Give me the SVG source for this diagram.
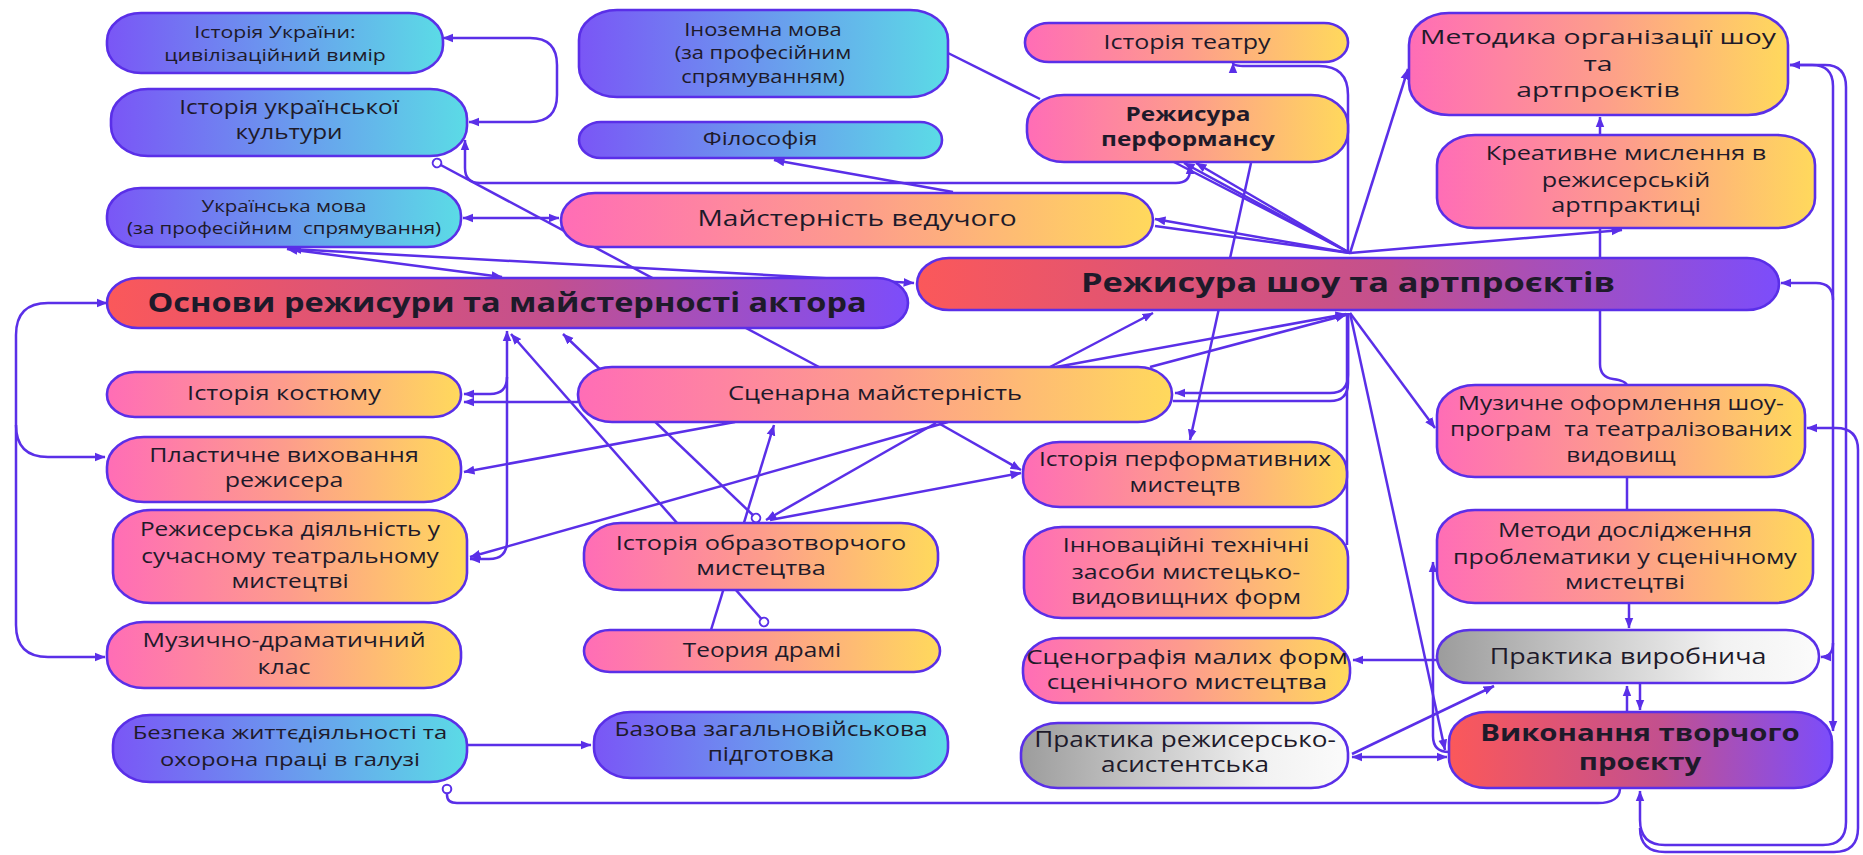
<svg xmlns="http://www.w3.org/2000/svg" width="1863" height="855" viewBox="0 0 1863 855">
<style>
.n{stroke:#5a2fe8;stroke-width:2.6}
.c{fill:none;stroke:#5a2fe8;stroke-width:2.5}
.t{font-family:'Open Sans','Noto Sans','DejaVu Sans',sans-serif;fill:#1e1a2a;text-anchor:middle}
.b{font-weight:700}
</style>
<defs>
<linearGradient id="pc" x1="0" y1="0" x2="1" y2="0"><stop offset="0" stop-color="#7a56f6"/><stop offset="1" stop-color="#5bdbe6"/></linearGradient>
<linearGradient id="py" x1="0" y1="0" x2="1" y2="0"><stop offset="0" stop-color="#ff6db6"/><stop offset="0.5" stop-color="#fd9c8c"/><stop offset="1" stop-color="#ffd95c"/></linearGradient>
<linearGradient id="rp" x1="0" y1="0" x2="1" y2="0"><stop offset="0" stop-color="#fb585a"/><stop offset="0.55" stop-color="#c3508e"/><stop offset="1" stop-color="#7c4dfb"/></linearGradient>
<linearGradient id="gr" x1="0" y1="0" x2="1" y2="0"><stop offset="0" stop-color="#9c9c9c"/><stop offset="0.75" stop-color="#f2f2f2"/><stop offset="1" stop-color="#fbfbfb"/></linearGradient>
<marker id="a" viewBox="0 0 10 10" refX="9.5" refY="5" markerWidth="11" markerHeight="11" markerUnits="userSpaceOnUse" orient="auto-start-reverse"><path d="M0,1 L10,5 L0,9 z" fill="#5a2fe8"/></marker>
<marker id="o" viewBox="0 0 12 12" refX="6" refY="6" markerWidth="12" markerHeight="12" markerUnits="userSpaceOnUse" orient="auto"><circle cx="6" cy="6" r="4.3" fill="#fff" stroke="#5a2fe8" stroke-width="2"/></marker>
</defs>
<rect width="1863" height="855" fill="#fff"/>
<g id="connectors">
<path class="c" d="M443,38 H530 Q557,38 557,65 V95 Q557,122 530,122 H469" marker-start="url(#a)" marker-end="url(#a)"/>
<path class="c" d="M465,140 V168 Q465,183 480,183 H1176 Q1190,183 1190,170 V164" marker-start="url(#a)" marker-end="url(#a)"/>
<path class="c" d="M437,163 L819,367" marker-start="url(#o)"/>
<path class="c" d="M463,218 H559" marker-start="url(#a)" marker-end="url(#a)"/>
<path class="c" d="M287,249 L502,277" marker-start="url(#a)" marker-end="url(#a)"/>
<path class="c" d="M291,249 L914,283" marker-start="url(#a)" marker-end="url(#a)"/>
<path class="c" d="M948,53 L1040,99"/>
<path class="c" d="M953,192 L774,160" marker-end="url(#a)"/>
<path class="c" d="M1350,253 L1155,219" marker-end="url(#a)"/>
<path class="c" d="M1350,253 L1155,226"/>
<path class="c" d="M1350,253 L1172,161"/>
<path class="c" d="M1350,253 L1184,163" marker-end="url(#a)"/>
<path class="c" d="M1350,253 L1196,163" marker-end="url(#a)"/>
<path class="c" d="M1348,253 V95 Q1348,66 1319,66 H1246 Q1233,66 1233,63" marker-end="url(#a)"/>
<path class="c" d="M1350,253 L1408,69" marker-end="url(#a)"/>
<path class="c" d="M1350,253 L1622,230" marker-end="url(#a)"/>
<path class="c" d="M1600,135 V117" marker-end="url(#a)"/>
<path class="c" d="M1600,258 V229"/>
<path class="c" d="M107,303 H48 Q16,303 16,335 V625 Q16,657 48,657 H105" marker-start="url(#a)" marker-end="url(#a)"/>
<path class="c" d="M16,425 Q16,457 48,457 H105" marker-end="url(#a)"/>
<path class="c" d="M507,331 V541 Q507,559 489,559 H470" marker-start="url(#a)" marker-end="url(#a)"/>
<path class="c" d="M507,377 Q507,394 490,394 H464" marker-end="url(#a)"/>
<path class="c" d="M578,402 H464" marker-end="url(#a)"/>
<path class="c" d="M756,518 L563,334" marker-start="url(#o)" marker-end="url(#a)"/>
<path class="c" d="M764,622 L511,334" marker-start="url(#o)" marker-end="url(#a)"/>
<path class="c" d="M711,630 L774,425" marker-end="url(#a)"/>
<path class="c" d="M735,422 L464,472" marker-end="url(#a)"/>
<path class="c" d="M948,422 L470,557" marker-end="url(#a)"/>
<path class="c" d="M936,423 L766,520" marker-end="url(#a)"/>
<path class="c" d="M770,520 L1021,473" marker-end="url(#a)"/>
<path class="c" d="M940,424 L1021,470" marker-end="url(#a)"/>
<path class="c" d="M1050,367 L1153,313" marker-end="url(#a)"/>
<path class="c" d="M1056,367 L1346,314" marker-end="url(#a)"/>
<path class="c" d="M1150,367 L1346,315" marker-end="url(#a)"/>
<path class="c" d="M1348,313 V375 Q1348,393 1330,393 H1175" marker-end="url(#a)"/>
<path class="c" d="M1348,313 V383 Q1348,401 1330,401 H1173"/>
<path class="c" d="M1347,313 V545"/>
<path class="c" d="M1251,163 L1190,440" marker-end="url(#a)"/>
<path class="c" d="M1350,313 L1435,428" marker-end="url(#a)"/>
<path class="c" d="M1350,313 L1445,750" marker-end="url(#a)"/>
<path class="c" d="M1600,310 V364 Q1600,377 1613,379 Q1627,381 1627,386"/>
<path class="c" d="M1627,477 V510"/>
<path class="c" d="M1629,603 V628" marker-end="url(#a)"/>
<path class="c" d="M1627,712 V686" marker-end="url(#a)"/>
<path class="c" d="M1640,683 V710" marker-end="url(#a)"/>
<path class="c" d="M1437,660 H1353" marker-end="url(#a)"/>
<path class="c" d="M1352,754 L1494,686" marker-end="url(#a)"/>
<path class="c" d="M1352,757 H1447" marker-start="url(#a)" marker-end="url(#a)"/>
<path class="c" d="M1449,752 Q1433,752 1433,736 V562" marker-end="url(#a)"/>
<path class="c" d="M1790,65 H1812 Q1833,65 1833,86 V731" marker-start="url(#a)" marker-end="url(#a)"/>
<path class="c" d="M1833,300 Q1833,283 1816,283 H1781" marker-end="url(#a)"/>
<path class="c" d="M1833,643 Q1833,657 1821,657" marker-end="url(#a)"/>
<path class="c" d="M1790,65 H1825 Q1846,65 1846,87 V822 Q1846,845 1823,845 H1665 Q1640,845 1640,820 V791" marker-end="url(#a)"/>
<path class="c" d="M1807,428 H1836 Q1858,428 1858,450 V828 Q1858,852 1834,852 H1665 Q1640,852 1640,828" marker-start="url(#a)"/>
<path class="c" d="M453,745 H591" marker-start="url(#o)" marker-end="url(#a)"/>
<path class="c" d="M447,789 V795 Q447,803 457,803 H1598 Q1619,803 1620,789" marker-start="url(#o)"/>
</g>
<g id="n1"><rect class="n" x="107" y="13" width="336" height="60" rx="34" ry="28" fill="url(#pc)"/><text class="t" font-size="17" transform="translate(275 0) scale(1.25 1)"><tspan x="0" y="38">Історія України:</tspan><tspan x="0" y="61">цивілізаційний вимір</tspan></text></g>
<g id="n2"><rect class="n" x="111" y="89" width="356" height="67" rx="37" ry="30" fill="url(#pc)"/><text class="t" font-size="19.5" transform="translate(289 0) scale(1.25 1)"><tspan x="0" y="114">Історія української</tspan><tspan x="0" y="139">культури</tspan></text></g>
<g id="n3"><rect class="n" x="107" y="188" width="354" height="59" rx="34" ry="28" fill="url(#pc)"/><text class="t" font-size="16.4" transform="translate(284 0) scale(1.25 1)"><tspan x="0" y="212">Українська мова</tspan><tspan x="0" y="234" xml:space="preserve">(за професійним  спрямування)</tspan></text></g>
<g id="n4"><rect class="n" x="579" y="10" width="369" height="87" rx="38" ry="30" fill="url(#pc)"/><text class="t" font-size="17.5" transform="translate(763 0) scale(1.25 1)"><tspan x="0" y="36">Іноземна мова</tspan><tspan x="0" y="59">(за професійним</tspan><tspan x="0" y="83">спрямуванням)</tspan></text></g>
<g id="n5"><rect class="n" x="579" y="122" width="363" height="36" rx="22" ry="18" fill="url(#pc)"/><text class="t" font-size="19" transform="translate(760 0) scale(1.25 1)"><tspan x="0" y="145">Філософія</tspan></text></g>
<g id="n6"><rect class="n" x="1025" y="23" width="323" height="39" rx="24" ry="19" fill="url(#py)"/><text class="t" font-size="20" transform="translate(1187 0) scale(1.25 1)"><tspan x="0" y="49">Історія театру</tspan></text></g>
<g id="n7"><rect class="n" x="1027" y="95" width="321" height="67" rx="37" ry="30" fill="url(#py)"/><text class="t b" font-size="19.5" transform="translate(1188 0) scale(1.25 1)"><tspan x="0" y="121">Режисура</tspan><tspan x="0" y="146">перформансу</tspan></text></g>
<g id="n8"><rect class="n" x="1409" y="13" width="379" height="102" rx="40" ry="32" fill="url(#py)"/><text class="t" font-size="20.5" transform="translate(1598 0) scale(1.38 1)"><tspan x="0" y="44">Методика організації шоу</tspan><tspan x="0" y="71">та</tspan><tspan x="0" y="97">артпроєктів</tspan></text></g>
<g id="n9"><rect class="n" x="1437" y="135" width="378" height="93" rx="38" ry="30" fill="url(#py)"/><text class="t" font-size="20.2" transform="translate(1626 0) scale(1.25 1)"><tspan x="0" y="160">Креативне мислення в</tspan><tspan x="0" y="187">режисерській</tspan><tspan x="0" y="212">артпрактиці</tspan></text></g>
<g id="n10"><rect class="n" x="561" y="193" width="592" height="54" rx="34" ry="27" fill="url(#py)"/><text class="t" font-size="22.5" transform="translate(857 0) scale(1.25 1)"><tspan x="0" y="226">Майстерність ведучого</tspan></text></g>
<g id="n11"><rect class="n" x="107" y="278" width="801" height="50" rx="31" ry="25" fill="url(#rp)"/><text class="t b" font-size="26" transform="translate(507 0) scale(1.25 1)"><tspan x="0" y="312">Основи режисури та майстерності актора</tspan></text></g>
<g id="n12"><rect class="n" x="917" y="258" width="862" height="52" rx="32" ry="26" fill="url(#rp)"/><text class="t b" font-size="27.5" transform="translate(1348 0) scale(1.25 1)"><tspan x="0" y="292">Режисура шоу та артпроєктів</tspan></text></g>
<g id="n13"><rect class="n" x="107" y="372" width="354" height="45" rx="28" ry="22" fill="url(#py)"/><text class="t" font-size="20.3" transform="translate(284 0) scale(1.25 1)"><tspan x="0" y="400">Історія костюму</tspan></text></g>
<g id="n14"><rect class="n" x="578" y="367" width="594" height="55" rx="34" ry="27" fill="url(#py)"/><text class="t" font-size="20.4" transform="translate(875 0) scale(1.25 1)"><tspan x="0" y="400">Сценарна майстерність</tspan></text></g>
<g id="n15"><rect class="n" x="107" y="437" width="354" height="65" rx="37" ry="30" fill="url(#py)"/><text class="t" font-size="20" transform="translate(284 0) scale(1.25 1)"><tspan x="0" y="462">Пластичне виховання</tspan><tspan x="0" y="487">режисера</tspan></text></g>
<g id="n16"><rect class="n" x="113" y="510" width="354" height="93" rx="38" ry="30" fill="url(#py)"/><text class="t" font-size="19.5" transform="translate(290 0) scale(1.25 1)"><tspan x="0" y="536">Режисерська діяльність у</tspan><tspan x="0" y="563">сучасному театральному</tspan><tspan x="0" y="588">мистецтві</tspan></text></g>
<g id="n17"><rect class="n" x="584" y="523" width="354" height="67" rx="37" ry="30" fill="url(#py)"/><text class="t" font-size="20.3" transform="translate(761 0) scale(1.25 1)"><tspan x="0" y="550">Історія образотворчого</tspan><tspan x="0" y="575">мистецтва</tspan></text></g>
<g id="n18"><rect class="n" x="1023" y="442" width="324" height="65" rx="37" ry="30" fill="url(#py)"/><text class="t" font-size="19.5" transform="translate(1185 0) scale(1.25 1)"><tspan x="0" y="466">Історія перформативних</tspan><tspan x="0" y="492">мистецтв</tspan></text></g>
<g id="n19"><rect class="n" x="1437" y="385" width="368" height="92" rx="38" ry="30" fill="url(#py)"/><text class="t" font-size="19.5" transform="translate(1621 0) scale(1.25 1)"><tspan x="0" y="410">Музичне оформлення шоу-</tspan><tspan x="0" y="436" xml:space="preserve">програм  та театралізованих</tspan><tspan x="0" y="462">видовищ</tspan></text></g>
<g id="n20"><rect class="n" x="1024" y="527" width="324" height="91" rx="38" ry="30" fill="url(#py)"/><text class="t" font-size="20" transform="translate(1186 0) scale(1.25 1)"><tspan x="0" y="552">Інноваційні технічні</tspan><tspan x="0" y="579">засоби мистецько-</tspan><tspan x="0" y="604">видовищних форм</tspan></text></g>
<g id="n21"><rect class="n" x="1437" y="510" width="376" height="93" rx="38" ry="30" fill="url(#py)"/><text class="t" font-size="20" transform="translate(1625 0) scale(1.25 1)"><tspan x="0" y="537">Методи дослідження</tspan><tspan x="0" y="564">проблематики у сценічному</tspan><tspan x="0" y="589">мистецтві</tspan></text></g>
<g id="n22"><rect class="n" x="107" y="622" width="354" height="66" rx="37" ry="30" fill="url(#py)"/><text class="t" font-size="20" transform="translate(284 0) scale(1.25 1)"><tspan x="0" y="647">Музично-драматичний</tspan><tspan x="0" y="674">клас</tspan></text></g>
<g id="n23"><rect class="n" x="584" y="630" width="356" height="42" rx="26" ry="21" fill="url(#py)"/><text class="t" font-size="19.5" transform="translate(762 0) scale(1.25 1)"><tspan x="0" y="657">Теория драмі</tspan></text></g>
<g id="n24"><rect class="n" x="1023" y="638" width="327" height="65" rx="37" ry="30" fill="url(#py)"/><text class="t" font-size="20.8" transform="translate(1187 0) scale(1.25 1)"><tspan x="0" y="664">Сценографія малих форм</tspan><tspan x="0" y="689">сценічного мистецтва</tspan></text></g>
<g id="n25"><rect class="n" x="1437" y="630" width="382" height="53" rx="33" ry="26" fill="url(#gr)"/><text class="t" font-size="21.5" transform="translate(1628 0) scale(1.25 1)"><tspan x="0" y="664">Практика виробнича</tspan></text></g>
<g id="n26"><rect class="n" x="113" y="715" width="354" height="67" rx="37" ry="30" fill="url(#pc)"/><text class="t" font-size="19" transform="translate(290 0) scale(1.25 1)"><tspan x="0" y="739">Безпека життєдіяльності та</tspan><tspan x="0" y="766">охорона праці в галузі</tspan></text></g>
<g id="n27"><rect class="n" x="594" y="712" width="354" height="66" rx="37" ry="30" fill="url(#pc)"/><text class="t" font-size="19.5" transform="translate(771 0) scale(1.25 1)"><tspan x="0" y="736">Базова загальновійськова</tspan><tspan x="0" y="761">підготовка</tspan></text></g>
<g id="n28"><rect class="n" x="1021" y="723" width="327" height="65" rx="37" ry="30" fill="url(#gr)"/><text class="t" font-size="20.9" transform="translate(1185 0) scale(1.25 1)"><tspan x="0" y="747">Практика режисерсько-</tspan><tspan x="0" y="772">асистентська</tspan></text></g>
<g id="n29"><rect class="n" x="1449" y="712" width="383" height="76" rx="38" ry="30" fill="url(#rp)"/><text class="t b" font-size="23.5" transform="translate(1640 0) scale(1.25 1)"><tspan x="0" y="741">Виконання творчого</tspan><tspan x="0" y="770">проєкту</tspan></text></g>
</svg>
